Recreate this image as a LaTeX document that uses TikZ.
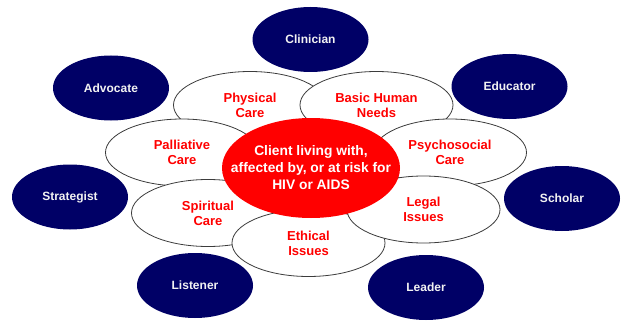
\documentclass[tikz,border=0pt]{standalone}
\usepackage{fontspec}
\setmainfont{Liberation Sans}
\usetikzlibrary{shapes.geometric}
\definecolor{navy}{RGB}{0,0,102}
\definecolor{hotred}{RGB}{255,0,0}
\definecolor{rimgray}{RGB}{60,60,60}
\definecolor{paletext}{RGB}{242,242,242}
\begin{document}
\begin{tikzpicture}[x=1pt,y=-1pt,
  role/.style={ellipse,fill=navy,draw=none,minimum width=116pt,minimum height=65pt,inner sep=0pt,
    text=paletext,font=\fontsize{12}{14}\selectfont\bfseries},
  petal/.style={ellipse,fill=white,draw=rimgray,line width=0.8pt,minimum width=153pt,minimum height=67pt,inner sep=0pt},
  petaltext/.style={align=center,text=hotred,font=\fontsize{13}{15}\selectfont\bfseries,inner sep=0pt},
  core/.style={ellipse,fill=hotred,draw=none,minimum width=178pt,minimum height=100pt,inner sep=0pt},
  coretext/.style={align=center,text=white,font=\fontsize{13.8}{17}\selectfont\bfseries,inner sep=0pt}]
\useasboundingbox (0,0) rectangle (624,321);
% outer roles
\node[role] (clinician) at (310.5,39.5) {Clinician};
\node[role] (advocate) at (111,88) {Advocate};
\node[role] (educator) at (509.5,86.5) {Educator};
\node[role] (strategist) at (70,197) {Strategist};
\node[role] (scholar) at (562,198.5) {Scholar};
\node[role] (listener) at (195,285.5) {Listener};
\node[role] (leader) at (426,287.5) {Leader};
% petals
\node[petal] (physical) at (250,105) {};
\node[petaltext] at (physical) {Physical\\Care};
\node[petal] (basic) at (376.5,105) {};
\node[petaltext] at (basic) {Basic Human\\Needs};
\node[petal] (psycho) at (450,152.5) {};
\node[petaltext] at (psycho) {Psychosocial\\Care};
\node[petal] (palliative) at (182,152.5) {};
\node[petaltext] at (palliative) {Palliative\\Care};
\node[petal] (spiritual) at (208,213) {};
\node[petaltext] at (spiritual) {Spiritual\\Care};
\node[petal] (ethical) at (308.5,243) {};
\node[petaltext] at (ethical) {Ethical\\Issues};
\node[petal] (legal) at (423.5,209.5) {};
\node[petaltext] at (legal) {Legal\\Issues};
% core
\node[core] (client) at (311,168) {};
\node[coretext] at (client) {Client living with,\\affected by, or at risk for\\HIV or AIDS};
\end{tikzpicture}
\end{document}
